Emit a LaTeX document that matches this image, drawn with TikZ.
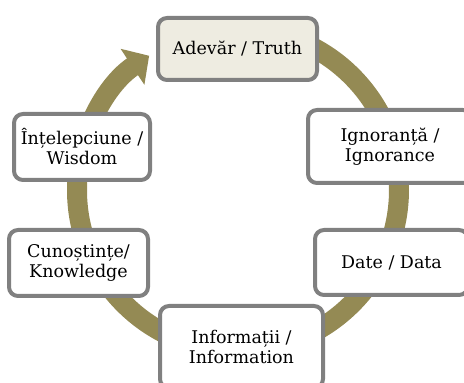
\documentclass[tikz,border=0pt]{standalone}
\usepackage{fontspec}
\setmainfont{DejaVu Serif}
\usetikzlibrary{arrows.meta}
\definecolor{ringcol}{HTML}{948A54}
\definecolor{boxline}{HTML}{808080}
\definecolor{topfill}{HTML}{EEECE1}
\begin{document}
\begin{tikzpicture}[x=1pt,y=1pt,line join=round,
  stage/.style={draw=boxline,line width=4pt,rounded corners=9pt,fill=white,align=center,
    font=\fontsize{17.5}{20}\selectfont,inner sep=0pt}]
\useasboundingbox (0,0) rectangle (464,383);
\clip (0,0) rectangle (464,383);
% ring with arrow
\draw[ringcol,line width=20pt,-{Triangle[width=42pt,length=20pt]}] (238,193) ++(85:161) arc[start angle=85,end angle=-236.5,radius=161];
% stages
\node[stage,fill=topfill,minimum width=159pt,minimum height=62pt] (truth) at (237.5,334) {Adevăr / Truth};
\node[stage,minimum width=164pt,minimum height=73pt] (ignorance) at (390,236.5) {Ignoranță /\\Ignorance};
\node[stage,minimum width=153pt,minimum height=65pt] (data) at (391.5,120.5) {Date / Data};
\node[stage,minimum width=163pt,minimum height=82pt] (information) at (241.5,36) {Informații /\\Information};
\node[stage,minimum width=139pt,minimum height=66pt] (knowledge) at (78.5,120) {Cunoștințe/\\Knowledge};
\node[stage,minimum width=136pt,minimum height=66pt] (wisdom) at (82,236) {Înțelepciune /\\Wisdom};
\end{tikzpicture}
\end{document}
